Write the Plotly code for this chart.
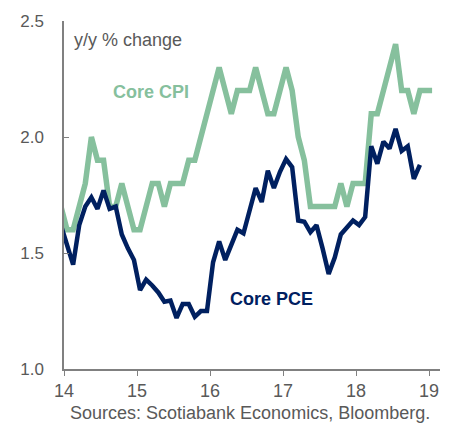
import plotly.graph_objects as go

# Monthly data, Dec 2013 onward
cpi_start = (2013, 12)
core_cpi = [1.7,
            1.6, 1.6, 1.7, 1.8, 2.0, 1.9, 1.9, 1.7, 1.7, 1.8, 1.7, 1.6,
            1.6, 1.7, 1.8, 1.8, 1.7, 1.8, 1.8, 1.8, 1.9, 1.9, 2.0, 2.1,
            2.2, 2.3, 2.2, 2.1, 2.2, 2.2, 2.2, 2.3, 2.2, 2.1, 2.1, 2.2,
            2.3, 2.2, 2.0, 1.9, 1.7, 1.7, 1.7, 1.7, 1.7, 1.8, 1.7, 1.8,
            1.8, 1.8, 2.1, 2.1, 2.2, 2.3, 2.4, 2.2, 2.2, 2.1, 2.2, 2.2,
            2.2]
pce_start = (2013, 12)
core_pce = [1.62,
            1.53, 1.45, 1.62, 1.70, 1.74, 1.69, 1.77, 1.69, 1.70, 1.58, 1.52, 1.47,
            1.34, 1.385, 1.36, 1.33, 1.29, 1.295, 1.22, 1.28, 1.28, 1.225, 1.25, 1.25,
            1.46, 1.55, 1.47, 1.54, 1.60, 1.585, 1.69, 1.78, 1.72, 1.855, 1.78, 1.85,
            1.905, 1.87, 1.64, 1.635, 1.59, 1.62, 1.52, 1.41, 1.48, 1.58, 1.61, 1.64,
            1.62, 1.655, 1.96, 1.885, 1.98, 1.95, 2.035, 1.94, 1.96, 1.82, 1.88]
x_ticks = [14, 15, 16, 17, 18, 19]
x_tick_labels = ["14", "15", "16", "17", "18", "19"]
y_ticks = [1.0, 1.5, 2.0, 2.5]
y_tick_labels = ["1.0", "1.5", "2.0", "2.5"]


def month_x(start, n):
    y0, m0 = start
    out = []
    for i in range(n):
        idx = (m0 - 1) + i
        yr = y0 + idx // 12
        mo = idx % 12 + 1
        out.append(yr - 2000 + (mo - 0.5) / 12)
    return out


GREEN = "#86C09D"
NAVY = "#002060"
GRAY = "#595959"
FONT = "Liberation Sans, Arial, sans-serif"

fig = go.Figure()
fig.add_trace(go.Scatter(x=month_x(cpi_start, len(core_cpi)), y=core_cpi, mode="lines",
                         line=dict(color=GREEN, width=5.5), name="Core CPI", cliponaxis=True))
fig.add_trace(go.Scatter(x=month_x(pce_start, len(core_pce)), y=core_pce, mode="lines",
                         line=dict(color=NAVY, width=4.5), name="Core PCE", cliponaxis=True))

fig.update_layout(
    width=453, height=429,
    margin=dict(l=64, r=13, t=19, b=60, pad=0),
    paper_bgcolor="white", plot_bgcolor="white",
    showlegend=False,
    font=dict(family=FONT, size=18, color=GRAY),
    xaxis=dict(range=[14, 19.15], tickvals=x_ticks, ticktext=x_tick_labels,
               showgrid=False, zeroline=False, showline=True, linecolor="#808080",
               linewidth=1.5, ticks="outside", ticklen=5, tickcolor="#808080",
               tickfont=dict(size=18, color=GRAY, family=FONT)),
    yaxis=dict(range=[1.0, 2.5], tickvals=y_ticks, ticktext=y_tick_labels,
               showgrid=False, zeroline=False, showline=True, linecolor="#808080",
               linewidth=1.5, ticks="inside", ticklen=5, tickcolor="#808080",
               ticklabelstandoff=15,
               tickfont=dict(size=17, color=GRAY, family=FONT)),
    annotations=[
        dict(text="y/y % change", xref="paper", yref="paper", x=0.021, y=0.946,
             xanchor="left", yanchor="middle", showarrow=False,
             font=dict(size=18, color=GRAY, family=FONT)),
        dict(text="<b>Core CPI</b>", xref="x", yref="y", x=15.19, y=2.193,
             xanchor="center", yanchor="middle", showarrow=False,
             font=dict(size=18, color=GREEN, family=FONT)),
        dict(text="<b>Core PCE</b>", xref="x", yref="y", x=16.84, y=1.30,
             xanchor="center", yanchor="middle", showarrow=False,
             font=dict(size=18, color=NAVY, family=FONT)),
        dict(text="Sources: Scotiabank Economics, Bloomberg.", xref="paper", yref="paper",
             x=0.0106, y=-0.126, xanchor="left", yanchor="middle", showarrow=False,
             font=dict(size=18, color=GRAY, family=FONT)),
    ],
)

fig.write_html("out.html", config={"displayModeBar": False},
               post_script="document.body.style.margin='0';document.body.style.padding='0';")
